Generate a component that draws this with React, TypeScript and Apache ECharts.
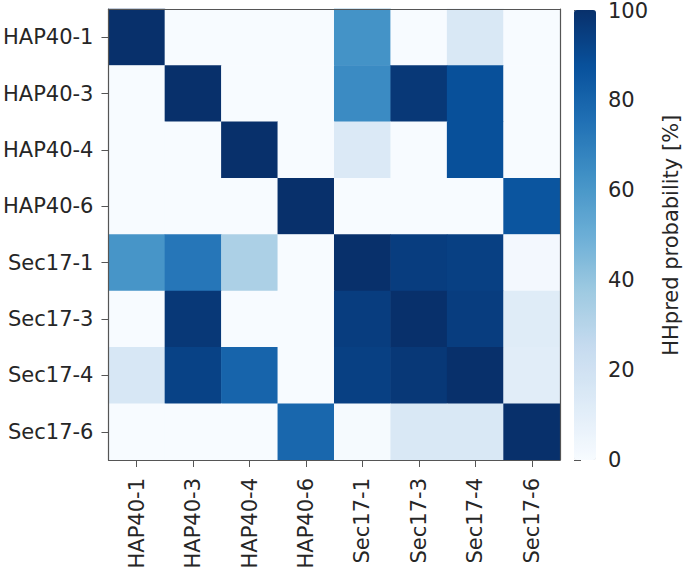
import React, { useEffect, useRef } from "react";
import * as echarts from "echarts";

const labels = ["HAP40-1", "HAP40-3", "HAP40-4", "HAP40-6", "Sec17-1", "Sec17-3", "Sec17-4", "Sec17-6"];

// each row: values against columns HAP40-1 ... Sec17-6 (HHpred probability, %)
const rowHap40_1 = [100, 0, 0, 0, 62, 0, 15, 0];
const rowHap40_3 = [0, 100, 0, 0, 65, 97, 88, 0];
const rowHap40_4 = [0, 0, 100, 0, 14, 0, 88, 0];
const rowHap40_6 = [0, 0, 0, 100, 0, 0, 0, 86];
const rowSec17_1 = [61, 73, 33, 0, 100, 95, 94, 2];
const rowSec17_3 = [0, 97, 0, 0, 95, 100, 95, 12];
const rowSec17_4 = [16, 93, 80, 0, 94, 97, 100, 11];
const rowSec17_6 = [0, 0, 0, 79, 1, 15, 15, 100];

const rows = [rowHap40_1, rowHap40_3, rowHap40_4, rowHap40_6, rowSec17_1, rowSec17_3, rowSec17_4, rowSec17_6];

const colorbarTicks = [0, 20, 40, 60, 80, 100];

const blues = ["#f7fbff", "#deebf7", "#c6dbef", "#9ecae1", "#6baed6", "#4292c6", "#2171b5", "#08519c", "#08306b"];

export default function App() {
  const ref = useRef<HTMLDivElement>(null);
  useEffect(() => {
    if (!ref.current) return;
    const chart = echarts.init(ref.current, undefined, { renderer: "svg" });
    const data: number[][] = [];
    rows.forEach((row, yi) => row.forEach((v, xi) => data.push([xi, yi, v])));
    const font = "DejaVu Sans";
    const textColor = "#262626";
    const axisColor = "#555555";
    const fs = 21;
    chart.setOption({
      animation: false,
      textStyle: { fontFamily: font },
      grid: [
        { left: 108, top: 9, width: 452, height: 451 },
        { left: 574, top: 10, width: 22, height: 450 },
      ],
      xAxis: [
        {
          type: "category",
          data: labels,
          gridIndex: 0,
          position: "bottom",
          axisLine: { show: true, lineStyle: { color: axisColor, width: 1.2 } },
          axisTick: { show: true, alignWithLabel: true, length: 7, lineStyle: { color: axisColor } },
          axisLabel: { rotate: 90, fontSize: fs, color: textColor, margin: 18, fontFamily: font },
          splitLine: { show: false },
          z: 10,
        },
        {
          type: "category",
          data: labels,
          gridIndex: 0,
          position: "top",
          axisLine: { show: true, lineStyle: { color: axisColor, width: 1.2 } },
          axisTick: { show: false },
          axisLabel: { show: false },
          z: 10,
        },
        { type: "value", gridIndex: 1, show: false },
      ],
      yAxis: [
        {
          type: "category",
          data: labels,
          inverse: true,
          gridIndex: 0,
          position: "left",
          axisLine: { show: true, lineStyle: { color: axisColor, width: 1.2 } },
          axisTick: { show: true, alignWithLabel: true, length: 7, lineStyle: { color: axisColor } },
          axisLabel: { fontSize: fs, color: textColor, margin: 15, fontFamily: font },
          z: 10,
        },
        {
          type: "category",
          data: labels,
          inverse: true,
          gridIndex: 0,
          position: "right",
          axisLine: { show: true, lineStyle: { color: axisColor, width: 1.2 } },
          axisTick: { show: false },
          axisLabel: { show: false },
          z: 10,
        },
        {
          type: "value",
          gridIndex: 1,
          position: "right",
          min: colorbarTicks[0],
          max: colorbarTicks[colorbarTicks.length - 1],
          interval: 20,
          axisLine: { show: false },
          axisTick: { show: true, length: 7, lineStyle: { color: axisColor } },
          axisLabel: { fontSize: fs, lineHeight: 18, color: textColor, margin: 12, fontFamily: font },
          splitLine: { show: false },
          name: "HHpred probability [%]",
          nameLocation: "middle",
          nameRotate: 90,
          nameGap: 64,
          nameTextStyle: { fontSize: fs, color: textColor, fontFamily: font },
        },
      ],
      visualMap: {
        type: "continuous",
        min: 0,
        max: 100,
        calculable: false,
        left: 574,
        top: 10,
        itemWidth: 22,
        itemHeight: 450,
        padding: 0,
        text: ["", ""],
        showLabel: false,
        hoverLink: false,
        inRange: { color: blues },
        seriesIndex: 0,
      },
      series: [
        {
          type: "heatmap",
          xAxisIndex: 0,
          yAxisIndex: 0,
          data,
          itemStyle: { borderWidth: 0 },
          emphasis: { disabled: true },
        },
      ],
    });
    return () => chart.dispose();
  }, []);
  return <div ref={ref} style={{ width: 685, height: 572, position: "absolute", left: 0, top: 0 }} />;
}
